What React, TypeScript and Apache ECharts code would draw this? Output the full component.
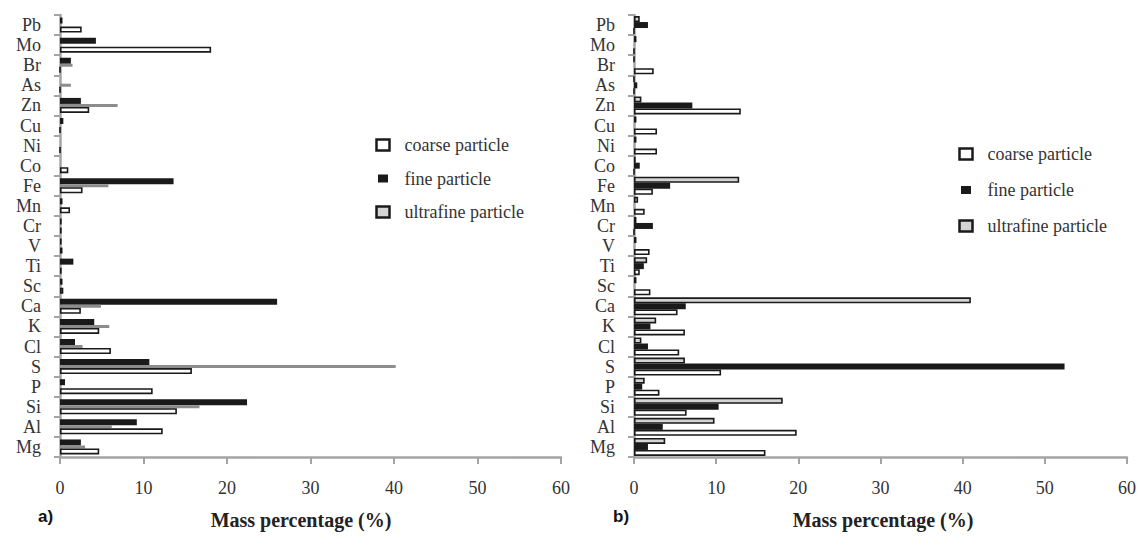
import React, { useEffect, useRef } from "react";
import * as echarts from "echarts";

const categories = ["Mg", "Al", "Si", "P", "S", "Cl", "K", "Ca", "Sc", "Ti", "V", "Cr", "Mn", "Fe", "Co", "Ni", "Cu", "Zn", "As", "Br", "Mo", "Pb"];
const xTickMin = 0;
const xTickMax = 60;
const xTickStep = 10;

const seriesNames = ["coarse particle", "fine particle", "ultrafine particle"];

// Panel a) values, Mg -> Pb
const aFine = [2.5, 9.2, 22.4, 0.6, 10.7, 1.8, 4.1, 26.0, 0.3, 1.6, 0.2, 0.2, 0.3, 13.6, 0, 0, 0.4, 2.5, 0, 1.3, 4.3, 0.3];
const aUltrafine = [3.0, 6.2, 16.7, 0, 40.2, 2.7, 5.9, 4.9, 0, 0, 0, 0, 0, 5.8, 0, 0, 0, 6.9, 1.3, 1.5, 0, 0];
const aCoarse = [4.7, 12.3, 14.0, 11.1, 15.8, 6.1, 4.7, 2.5, 0.4, 0.2, 0.3, 0.2, 1.2, 2.7, 1.0, 0, 0, 3.5, 0, 0, 18.1, 2.6];

// Panel b) values, Mg -> Pb
const bUltrafine = [3.8, 9.8, 18.1, 1.3, 6.2, 0.9, 2.7, 41.0, 0.3, 1.6, 0.3, 0.3, 0.5, 12.8, 0.2, 0.3, 0.3, 0.9, 0, 0, 0.3, 0.7];
const bFine = [1.7, 3.5, 10.3, 1.0, 52.4, 1.7, 2.0, 6.3, 0, 1.2, 0, 2.3, 0, 4.4, 0.7, 0, 0, 7.1, 0.4, 0, 0, 1.7];
const bCoarse = [16.0, 19.8, 6.4, 3.1, 10.6, 5.5, 6.2, 5.3, 2.0, 0.7, 1.9, 0, 1.3, 2.3, 0, 2.8, 2.8, 13.0, 0, 2.4, 0, 0];

const INK = "#1a1a1a";
const AXIS = "#a4a4a4";
const SERIF = "'Liberation Serif', 'Times New Roman', serif";

const coarseStyle = { color: "#ffffff", borderColor: INK, borderWidth: 1.6 };
const fineStyle = { color: INK };
const ultraStyle = { color: "#d4d4d4", borderColor: INK, borderWidth: 1.6 };
const ultraFaintStyle = { color: "#8c8c8c" };

function xAxisFor(gridIndex: number) {
  return {
    type: "value",
    gridIndex,
    min: xTickMin,
    max: xTickMax,
    interval: xTickStep,
    axisLine: { show: true, lineStyle: { color: AXIS, width: 2.5 } },
    axisTick: { show: true, length: 7, lineStyle: { color: AXIS, width: 2 } },
    splitLine: { show: false },
    axisLabel: { margin: 22, color: "#333", fontFamily: SERIF, fontSize: 18 },
  };
}

function yAxisFor(gridIndex: number) {
  return {
    type: "category",
    gridIndex,
    data: categories,
    axisLine: { show: true, lineStyle: { color: AXIS, width: 2.5 } },
    axisTick: { show: true, interval: 0, length: 6, lineStyle: { color: AXIS, width: 2 } },
    axisLabel: { interval: 0, margin: 19, color: "#333", fontFamily: SERIF, fontSize: 18 },
  };
}

function legendFor(left: number, top: number, gap: number) {
  return {
    orient: "vertical",
    left,
    top,
    padding: 0,
    itemWidth: 13,
    itemHeight: 11,
    itemGap: gap,
    selectedMode: false,
    textStyle: { fontFamily: SERIF, fontSize: 18, color: "#333", lineHeight: 18, padding: [0, 0, 0, 10] },
    data: [
      { name: seriesNames[0], icon: "rect", itemStyle: { color: "#ffffff", borderColor: INK, borderWidth: 2.5 } },
      { name: seriesNames[1], icon: "rect", itemStyle: { color: INK, borderColor: "#ffffff", borderWidth: 3 } },
      { name: seriesNames[2], icon: "rect", itemStyle: { color: "#d4d4d4", borderColor: INK, borderWidth: 2.5 } },
    ],
  };
}

function bar(name: string, idx: number, data: number[], style: any, width = 6) {
  return {
    type: "bar",
    name,
    xAxisIndex: idx,
    yAxisIndex: idx,
    data,
    barWidth: width,
    barGap: "0%",
    itemStyle: style,
  };
}

export default function App() {
  const ref = useRef<HTMLDivElement>(null);

  useEffect(() => {
    document.body.style.margin = "0";
    if (!ref.current) return;
    const chart = echarts.init(ref.current, null, { renderer: "svg" });
    chart.setOption({
      animation: false,
      backgroundColor: "#ffffff",
      grid: [
        { left: 60, right: 580, top: 15, bottom: 81 },
        { left: 634, right: 14, top: 15, bottom: 81 },
      ],
      xAxis: [xAxisFor(0), xAxisFor(1)],
      yAxis: [yAxisFor(0), yAxisFor(1)],
      legend: [legendFor(375, 136, 15.5), legendFor(958, 145, 18)],
      series: [
        // panel a: first series is drawn at the top of each group
        bar(seriesNames[1], 0, aFine, fineStyle),
        bar(seriesNames[2], 0, aUltrafine, ultraFaintStyle, 3),
        bar(seriesNames[0], 0, aCoarse, coarseStyle),
        // panel b
        bar(seriesNames[2], 1, bUltrafine, ultraStyle),
        bar(seriesNames[1], 1, bFine, fineStyle),
        bar(seriesNames[0], 1, bCoarse, coarseStyle),
      ],
      graphic: [
        { type: "text", left: 38, top: 508, style: { text: "a)", font: "bold 17px 'Liberation Sans', Arial, sans-serif", fill: "#111" } },
        { type: "text", left: 613, top: 508, style: { text: "b)", font: "bold 17px 'Liberation Sans', Arial, sans-serif", fill: "#111" } },
        { type: "text", x: 301, y: 520, style: { text: "Mass percentage (%)", font: `bold 20px ${SERIF}`, fill: "#222", align: "center", verticalAlign: "middle" } },
        { type: "text", x: 883, y: 520, style: { text: "Mass percentage (%)", font: `bold 20px ${SERIF}`, fill: "#222", align: "center", verticalAlign: "middle" } },
      ],
    });
    return () => chart.dispose();
  }, []);

  return <div ref={ref} style={{ width: 1141, height: 538 }} />;
}
